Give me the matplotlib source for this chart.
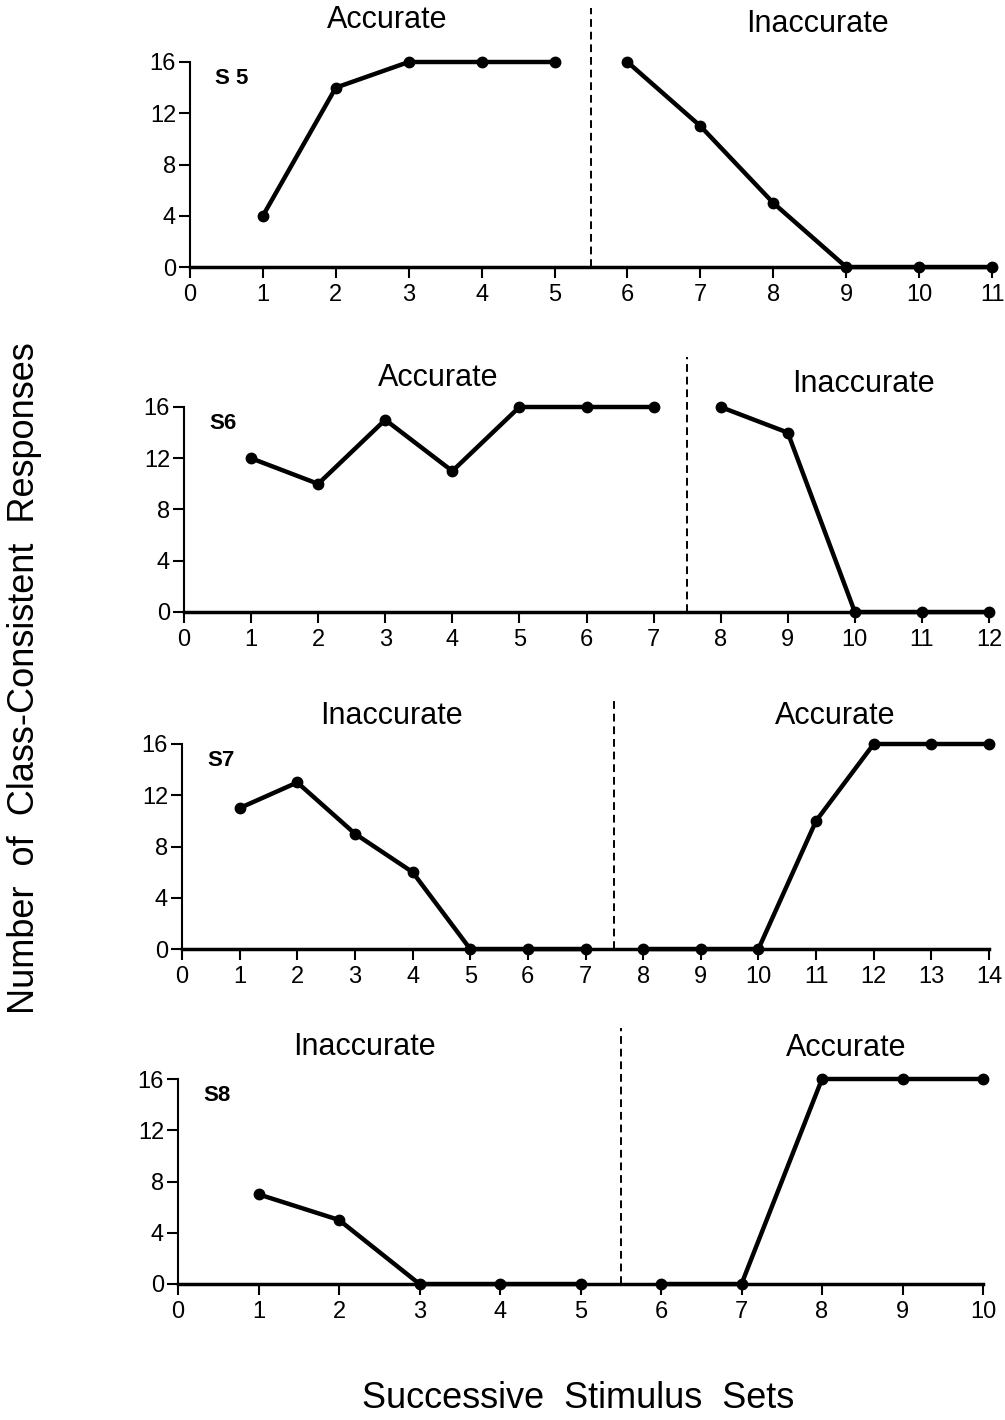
import matplotlib
matplotlib.use('Agg')
import matplotlib.pyplot as plt

plt.rcParams['font.family'] = ['Liberation Sans', 'DejaVu Sans']

# data
s5_y = [4, 14, 16, 16, 16, 16, 11, 5, 0, 0, 0]
s6_y = [12, 10, 15, 11, 16, 16, 16, 16, 14, 0, 0, 0]
s7_y = [11, 13, 9, 6, 0, 0, 0, 0, 0, 0, 10, 16, 16, 16]
s8_y = [7, 5, 0, 0, 0, 0, 0, 16, 16, 16]

subjects = ['S 5', 'S6', 'S7', 'S8']
series = [s5_y, s6_y, s7_y, s8_y]
breaks = [5, 7, 7, 5]   # number of sets in first phase
phase_names = [('Accurate', 'Inaccurate'), ('Accurate', 'Inaccurate'),
               ('Inaccurate', 'Accurate'), ('Inaccurate', 'Accurate')]
# label positions (x, y) in data units for first / second phase
label_pos = [((2.7, 19.3), (8.6, 19.0)),
             ((3.79, 18.3), (10.13, 17.8)),
             ((3.63, 18.2), (11.33, 18.2)),
             ((2.32, 18.5), (8.3, 18.4))]
dash_top = [20.2, 19.9, 19.7, 20.0]

W, H = 1005, 1420
fig = plt.figure(figsize=(W / 100, H / 100), dpi=100)

# axes boxes in pixels: left, right, bottom (y of zero line)
boxes = [(190, 992, 267), (184, 989, 612), (182, 989, 949), (178, 983, 1284)]
ph = 205

for i, (l, r, b) in enumerate(boxes):
    ax = fig.add_axes([l / W, 1 - b / H, (r - l) / W, ph / H])
    y = series[i]
    n = len(y)
    k = breaks[i]
    x = list(range(1, n + 1))
    ax.plot(x[:k], y[:k], color='black', lw=3.2, marker='o', ms=7.5, clip_on=False, zorder=3)
    ax.plot(x[k:], y[k:], color='black', lw=3.2, marker='o', ms=7.5, clip_on=False, zorder=3)
    ax.plot([k + 0.5, k + 0.5], [0, dash_top[i]], color='black', lw=1.4,
            ls=(0, (4, 2.5)), clip_on=False)
    ax.set_xlim(0, n)
    ax.set_ylim(0, 16)
    ax.set_xticks(range(0, n + 1))
    ax.set_yticks([0, 4, 8, 12, 16])
    for s in ['top', 'right']:
        ax.spines[s].set_visible(False)
    ax.spines['left'].set_linewidth(1.5)
    ax.spines['bottom'].set_linewidth(2.5)
    ax.tick_params(axis='both', direction='out', length=8, width=1.5, labelsize=17)
    ax.tick_params(axis='x', pad=4)
    ax.tick_params(axis='y', pad=2)
    ax.patch.set_visible(False)

    (x1, y1), (x2, y2) = label_pos[i]
    ax.text(x1, y1, phase_names[i][0], fontsize=22, ha='center', va='center')
    ax.text(x2, y2, phase_names[i][1], fontsize=22, ha='center', va='center')
    ax.text(0.031, 0.92, subjects[i], transform=ax.transAxes, fontsize=16,
            fontweight='bold', ha='left', va='center')

fig.text(25 / W, 1 - 678 / H, 'Number  of  Class-Consistent  Responses',
         rotation=90, fontsize=26, ha='center', va='center')
fig.text(578 / W, 1 - 1398 / H, 'Successive  Stimulus  Sets',
         fontsize=26, ha='center', va='center')

fig.savefig('out.png', dpi=100)
